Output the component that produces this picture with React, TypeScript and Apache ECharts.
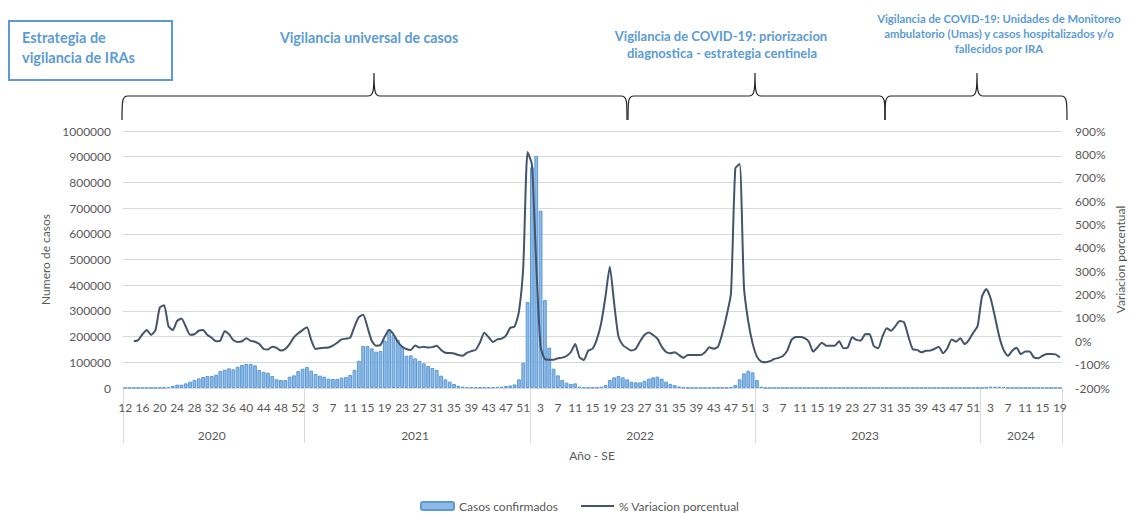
import React, { useEffect, useRef } from "react";
import * as echarts from "echarts";

// Year / epidemiological week spans shown on the axis
const yearSpans: [number, number, number][] = [
  [2020, 12, 53],
  [2021, 1, 52],
  [2022, 1, 52],
  [2023, 1, 52],
  [2024, 1, 19],
];

const weekCategories: string[] = [];
const yearCategories: string[] = [];
yearSpans.forEach(([y, a, b]) => {
  for (let w = a; w <= b; w++) {
    weekCategories.push(String(w));
    yearCategories.push(String(y));
  }
});

// Casos confirmados (weekly)
const casos2020: number[] = [
  800, 800, 800, 800, 800, 800, 800, 800, 800, 1500,
  3900, 7800, 13000, 13000, 18000, 24600, 31000, 37600, 42800, 46700,
  46700, 51900, 66100, 71300, 76500, 72600, 83000, 89500, 93400, 93400,
  88200, 70000, 62300, 59700, 46700, 33700, 31100, 31100, 44100, 49300,
  66100, 75000,
];
const casos2021: number[] = [
  82000, 67400, 54500, 48000, 44100, 36300, 35000, 35000, 40200, 42800,
  50600, 70000, 106000, 163400, 163400, 154300, 141400, 144000, 184200, 228300,
  206200, 186800, 163400, 125800, 127100, 115400, 106000, 96000, 85600, 77800,
  70000, 48000, 33700, 24600, 15600, 9100, 5200, 3900, 2600, 2600,
  2600, 2600, 2600, 3000, 4000, 5200, 7800, 10000, 14000, 33700,
  98600, 334600,
];
const casos2022: number[] = [
  859000, 903000, 690000, 342000, 157000, 75200, 49300, 31100, 20700, 15600,
  18100, 5200, 2600, 2000, 2000, 2000, 5000, 11700, 31100, 41500,
  46700, 41500, 33700, 24600, 22000, 22000, 28500, 36300, 41500, 44100,
  36300, 24600, 16000, 11000, 6000, 2000, 1000, 1000, 1000, 1000,
  1000, 1000, 1000, 1000, 1000, 1500, 3000, 11700, 33700, 57000,
  67400, 61000,
];
const casos2023: number[] = [
  31100, 5200, 700, 700, 700, 700, 700, 700, 700, 700,
  700, 700, 700, 700, 700, 700, 700, 700, 700, 700,
  700, 700, 700, 700, 700, 700, 700, 700, 700, 700,
  700, 700, 700, 700, 700, 700, 700, 700, 700, 700,
  700, 700, 700, 700, 700, 700, 700, 700, 700, 700,
  700, 700,
];
const casos2024: number[] = [
  700, 1500, 5000, 5000, 5000, 4000, 700, 700, 700, 700,
  700, 700, 700, 700, 700, 700, 700, 700, 700,
];

// % Variacion porcentual (weekly)
const variacion2020: (number | null)[] = [
  null, null, 0, 5, 30, 48, 27, 48, 144, 154,
  65, 48, 87, 97, 63, 28, 30, 45, 48, 27,
  15, 0, 3, 43, 30, 5, -3, 0, 13, 2,
  -2, -12, -33, -35, -23, -28, -40, -33, -12, 17,
  34, 48,
];
const variacion2021: number[] = [
  60, 5, -33, -30, -28, -27, -19, -6, 8, 11,
  15, 63, 103, 114, 60, 1, -19, -16, 20, 48,
  30, -2, -23, -33, -37, -18, -27, -23, -27, -25,
  -19, -37, -49, -50, -52, -59, -62, -49, -42, -37,
  -5, 36, 17, -3, 8, 11, 24, 58, 63, 127,
  319, 810,
];
const variacion2022: number[] = [
  755, 330, -23, -77, -79, -79, -73, -70, -63, -46,
  -12, -68, -80, -40, -32, 8, 77, 191, 319, 163,
  20, -16, -30, -40, -32, 0, 27, 38, 27, 11,
  -23, -46, -51, -47, -59, -71, -59, -59, -59, -59,
  -47, -26, -32, -23, 34, 110, 205, 740, 759, 234,
  84, -9,
];
const variacion2023: number[] = [
  -66, -87, -90, -85, -76, -71, -63, -40, 6, 18,
  18, 13, -2, -44, -26, -6, -19, -19, -19, 0,
  -30, -26, 17, 6, 3, 30, 31, -20, -30, 20,
  56, 45, 65, 87, 81, 20, -34, -37, -47, -41,
  -40, -33, -23, -51, -30, 8, -2, 13, -12, 6,
  37, 65,
];
const variacion2024: number[] = [
  191, 224, 184, 105, 20, -37, -63, -41, -28, -55,
  -44, -44, -69, -73, -62, -55, -55, -56, -69,
];

const casos = [...casos2020, ...casos2021, ...casos2022, ...casos2023, ...casos2024];
const variacion = [
  ...variacion2020, ...variacion2021, ...variacion2022, ...variacion2023, ...variacion2024,
];

// Year group boundaries and label positions on the year axis
const yearStart = new Set<number>();
const yearMid = new Set<number>();
{
  let idx = 0;
  yearSpans.forEach(([, a, b]) => {
    const n = b - a + 1;
    yearStart.add(idx);
    yearMid.add(idx + Math.floor((n - 1) / 2));
    idx += n;
  });
}

const blue = "#5b9bd5";
const textGray = "#595959";
const gridGray = "#d9d9d9";
const FONT = "Lato";

function bracePath(x1: number, x2: number, xc: number, yb: number, ye: number, yp: number) {
  return (
    `M${x1},${ye} C${x1},${yb + 5} ${x1},${yb} ${x1 + 6},${yb} ` +
    `L${xc - 6},${yb} C${xc - 1},${yb} ${xc},${yb - 4} ${xc},${yp} ` +
    `C${xc},${yb - 4} ${xc + 1},${yb} ${xc + 6},${yb} ` +
    `L${x2 - 6},${yb} C${x2},${yb} ${x2},${yb + 5} ${x2},${ye}`
  );
}

let registered = false;
function registerBraces() {
  if (registered) return;
  registered = true;
  echarts.graphic.registerShape("brace1", echarts.graphic.extendPath(bracePath(122, 627, 374, 96, 120, 73), {}) as any);
  echarts.graphic.registerShape("brace2", echarts.graphic.extendPath(bracePath(628, 885, 755, 96, 120, 73), {}) as any);
  echarts.graphic.registerShape("brace3", echarts.graphic.extendPath(bracePath(885, 1067, 977, 96, 120, 73), {}) as any);
}

export default function App() {
  const ref = useRef<HTMLDivElement>(null);
  useEffect(() => {
    if (!ref.current) return;
    registerBraces();
    const chart = echarts.init(ref.current, undefined, { renderer: "svg" });
    const titleStyle = (size: number) => ({
      fill: blue,
      fontFamily: FONT,
      fontWeight: "bold" as const,
      fontSize: size,
    });
    const braceStyle = { stroke: "#222", fill: "none", lineWidth: 1.2 };
    chart.setOption({
      animation: false,
      textStyle: { fontFamily: FONT },
      grid: [
        { left: 123, right: 69, top: 131, bottom: 125, outerBoundsMode: "none" },
        { left: 123, right: 69, top: 388, height: 55, outerBoundsMode: "none" },
      ],
      legend: {
        left: 415,
        top: 495,
        itemWidth: 33,
        itemHeight: 8,
        itemGap: 23,
        textStyle: { fontSize: 12, color: textGray, fontFamily: FONT },
        data: [
          { name: "Casos confirmados" },
          { name: "% Variacion porcentual", icon: "path://M0,0 L33,0 L33,2 L0,2 Z" },
        ],
      },
      xAxis: [
        {
          type: "category",
          gridIndex: 0,
          data: weekCategories,
          axisLine: { lineStyle: { color: gridGray } },
          axisTick: { show: false },
          axisLabel: { interval: 3, fontSize: 12, color: textGray, margin: 13 },
        },
        {
          type: "category",
          gridIndex: 1,
          data: yearCategories,
          position: "bottom",
          axisLine: { show: false },
          axisTick: { show: false },
          splitLine: {
            show: true,
            interval: (i: number) => yearStart.has(i),
            lineStyle: { color: gridGray, width: 1 },
          },
          axisLabel: {
            interval: (i: number) => yearMid.has(i),
            inside: true,
            fontSize: 12,
            color: textGray,
            margin: 2,
          },
        },
      ],
      yAxis: [
        {
          type: "value",
          gridIndex: 0,
          min: 0,
          max: 1000000,
          interval: 100000,
          axisLine: { show: false },
          axisTick: { show: false },
          splitLine: { lineStyle: { color: gridGray, width: 1 } },
          axisLabel: {
            fontSize: 12,
            color: textGray,
            margin: 12,
            formatter: (v: number) => String(v),
          },
          name: "Numero de casos",
          nameLocation: "middle",
          nameGap: 70,
          nameTextStyle: { fontSize: 12, color: textGray },
        },
        {
          type: "value",
          gridIndex: 0,
          min: -200,
          max: 900,
          interval: 100,
          position: "right",
          axisLine: { show: false },
          axisTick: { show: false },
          splitLine: { show: false },
          axisLabel: {
            fontSize: 12,
            color: textGray,
            margin: 13,
            formatter: (v: number) => v + "%",
          },
          name: "Variacion porcentual",
          nameLocation: "middle",
          nameGap: 52,
          nameMoveOverlap: false,
          nameTextStyle: { fontSize: 12, color: textGray },
        },
        {
          type: "value",
          gridIndex: 1,
          show: false,
        },
      ],
      series: [
        {
          name: "Casos confirmados",
          type: "bar",
          data: casos,
          barCategoryGap: "12%",
          itemStyle: { color: "#8fb8e6", borderColor: blue, borderWidth: 1 },
        },
        {
          name: "% Variacion porcentual",
          type: "line",
          yAxisIndex: 1,
          data: variacion,
          symbol: "none",
          smooth: 0.2,
          lineStyle: { color: "#44546a", width: 2 },
          itemStyle: { color: "#44546a" },
        },
      ],
      graphic: [
        {
          type: "rect",
          shape: { x: 9, y: 21, width: 163, height: 59 },
          style: { stroke: blue, fill: "#fff", lineWidth: 2 },
        },
        {
          type: "text",
          x: 22,
          y: 37,
          style: { ...titleStyle(14.5), text: "Estrategia de", textVerticalAlign: "middle" },
        },
        {
          type: "text",
          x: 22,
          y: 57,
          style: { ...titleStyle(14.5), text: "vigilancia de IRAs", textVerticalAlign: "middle" },
        },
        {
          type: "text",
          x: 369,
          y: 37,
          style: { ...titleStyle(14.2), text: "Vigilancia universal de casos", textAlign: "center", textVerticalAlign: "middle" },
        },
        {
          type: "text",
          x: 721,
          y: 36,
          style: { ...titleStyle(13), text: "Vigilancia de COVID-19: priorizacion", textAlign: "center", textVerticalAlign: "middle" },
        },
        {
          type: "text",
          x: 722,
          y: 53,
          style: { ...titleStyle(13), text: "diagnostica - estrategia centinela", textAlign: "center", textVerticalAlign: "middle" },
        },
        {
          type: "text",
          x: 999,
          y: 18,
          style: { ...titleStyle(11.3), text: "Vigilancia de COVID-19: Unidades de Monitoreo", textAlign: "center", textVerticalAlign: "middle" },
        },
        {
          type: "text",
          x: 999,
          y: 33,
          style: { ...titleStyle(11.3), text: "ambulatorio (Umas) y casos hospitalizados y/o", textAlign: "center", textVerticalAlign: "middle" },
        },
        {
          type: "text",
          x: 999,
          y: 48,
          style: { ...titleStyle(11.3), text: "fallecidos por IRA", textAlign: "center", textVerticalAlign: "middle" },
        },
        {
          type: "text",
          x: 592,
          y: 455,
          style: { text: "Año - SE", fill: textGray, fontFamily: FONT, fontSize: 12, textAlign: "center", textVerticalAlign: "middle" },
        },
        { type: "brace1", x: 0, y: 0, style: braceStyle },
        { type: "brace2", x: 0, y: 0, style: braceStyle },
        { type: "brace3", x: 0, y: 0, style: braceStyle },
      ],
    });
    return () => chart.dispose();
  }, []);
  return (
    <div
      ref={ref}
      style={{ position: "fixed", left: 0, top: 0, width: 1131, height: 513, background: "#fff" }}
    />
  );
}
